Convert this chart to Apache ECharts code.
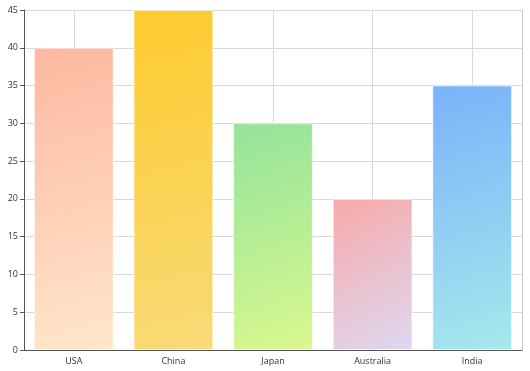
<!DOCTYPE html>
<html><head><meta charset="utf-8">
<script src="https://cdn.jsdelivr.net/npm/echarts@6/dist/echarts.min.js"></script>
<style>html,body{margin:0;padding:0;background:#fff}#c{width:530px;height:371px}</style>
</head><body><div id="c"></div>
<script>
const categories = ['USA', 'China', 'Japan', 'Australia', 'India'];
const values = [40, 45, 30, 20, 35];
const yTicks = [0, 5, 10, 15, 20, 25, 30, 35, 40, 45];
const topColors = ['#FDB8A0', '#FDCB2E', '#93E39B', '#F8A9A9', '#7AB2FA'];
const bottomColors = ['#FFE6CC', '#F8DA78', '#DAF88F', '#DDD8F2', '#A6E9EC'];

const chart = echarts.init(document.getElementById('c'), null, {renderer: 'canvas'});
const font = 'Segoe UI, "Open Sans", sans-serif';
chart.setOption({
  animation: false,
  grid: {left: 24, right: 8, top: 10, bottom: 21, containLabel: false},
  xAxis: {
    type: 'category', data: categories,
    axisLine: {lineStyle: {color: '#555', width: 1}},
    axisTick: {alignWithLabel: true, length: 4, lineStyle: {color: '#555'}},
    axisLabel: {color: '#333', fontSize: 9, fontFamily: font, margin: 7},
    splitLine: {show: true, alignWithLabel: true, lineStyle: {color: '#d9d9d9'}}
  },
  yAxis: [{
    type: 'value', min: yTicks[0], max: yTicks[yTicks.length - 1], interval: 5,
    axisLine: {show: true, lineStyle: {color: '#555'}},
    axisTick: {show: true, length: 4, lineStyle: {color: '#555'}},
    axisLabel: {color: '#333', fontSize: 9, fontFamily: font, margin: 6},
    splitLine: {lineStyle: {color: '#d9d9d9'}}
  }, {
    type: 'value', position: 'right', min: yTicks[0], max: yTicks[yTicks.length - 1], interval: 5,
    axisLine: {show: true, lineStyle: {color: '#c8c8c8'}},
    axisTick: {show: false}, axisLabel: {show: false}, splitLine: {show: false}
  }],
  series: [{
    type: 'bar', barWidth: '80%',
    data: values.map((v, i) => ({
      value: v,
      itemStyle: {
        color: new echarts.graphic.LinearGradient(0, 0, 1, 1, [
          {offset: 0, color: topColors[i]},
          {offset: 1, color: bottomColors[i]}
        ]),
        borderColor: 'rgba(255,255,255,0.5)', borderWidth: 1
      }
    }))
  }]
});
</script></body></html>
